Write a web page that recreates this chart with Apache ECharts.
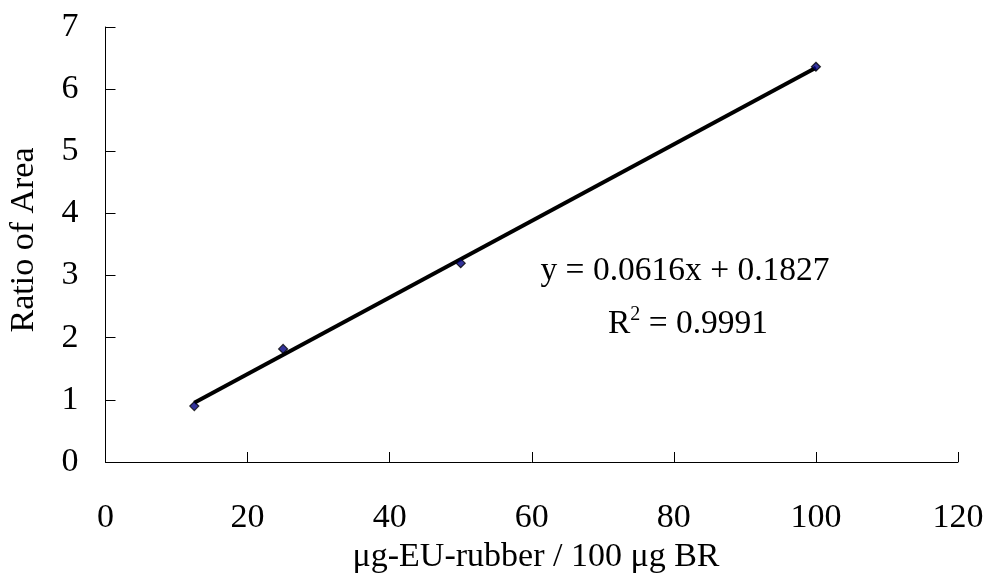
<!DOCTYPE html>
<html>
<head>
<meta charset="utf-8">
<style>
  html, body { margin: 0; padding: 0; background: #fff; }
  #chart { width: 987px; height: 581px; }
</style>
<script src="https://cdn.jsdelivr.net/npm/echarts@6/dist/echarts.min.js"></script>
</head>
<body>
<div id="chart"></div>
<script>
// Calibration points: amount of EU rubber vs. measured peak-area ratio
const amounts = [12.5, 25, 50, 100];
const areaRatios = [0.9, 1.82, 3.2, 6.36];

// Linear fit reported for the calibration
const fitSlope = 0.0616;
const fitIntercept = 0.1827;
const fitR2 = 0.9991;

const xTicks = [0, 20, 40, 60, 80, 100, 120];
const yTicks = [0, 1, 2, 3, 4, 5, 6, 7];

const FONT = '"Liberation Serif", "Times New Roman", serif';

const points = amounts.map((x, i) => [x, areaRatios[i]]);
const xFirst = amounts[0];
const xLast = amounts[amounts.length - 1];
const fitLine = [
  [xFirst, fitSlope * xFirst + fitIntercept],
  [xLast, fitSlope * xLast + fitIntercept]
];

const chart = echarts.init(document.getElementById('chart'), null, { renderer: 'canvas' });

chart.setOption({
  backgroundColor: '#ffffff',
  animation: false,
  grid: { left: 105.5, right: 29, top: 27, bottom: 119, containLabel: false },
  xAxis: {
    type: 'value',
    min: xTicks[0],
    max: xTicks[xTicks.length - 1],
    interval: 20,
    axisLine: { show: true, onZero: false, lineStyle: { color: '#000', width: 1 } },
    axisTick: { show: true, inside: true, length: 10, lineStyle: { color: '#000', width: 1 } },
    axisLabel: { color: '#000', fontFamily: FONT, fontSize: 34, margin: 39 },
    splitLine: { show: false }
  },
  yAxis: {
    type: 'value',
    min: yTicks[0],
    max: yTicks[yTicks.length - 1],
    interval: 1,
    axisLine: { show: true, onZero: false, lineStyle: { color: '#000', width: 1 } },
    axisTick: { show: true, inside: true, length: 10, lineStyle: { color: '#000', width: 1 } },
    axisLabel: { color: '#000', fontFamily: FONT, fontSize: 34, margin: 27 },
    splitLine: { show: false }
  },
  series: [
    {
      name: 'fit',
      type: 'line',
      data: fitLine,
      showSymbol: false,
      symbol: 'none',
      lineStyle: { color: '#000', width: 4 },
      z: 2
    },
    {
      name: 'calibration',
      type: 'scatter',
      data: points,
      symbol: 'diamond',
      symbolSize: 9,
      itemStyle: { color: '#000080', borderColor: '#000', borderWidth: 1.2 },
      z: 3
    }
  ],
  graphic: [
    {
      type: 'text',
      x: 24,
      y: 240,
      rotation: Math.PI / 2,
      style: {
        text: 'Ratio of Area',
        fontFamily: FONT,
        fontSize: 34,
        fill: '#000',
        textAlign: 'center',
        textVerticalAlign: 'middle'
      }
    },
    {
      type: 'text',
      x: 536,
      y: 557,
      style: {
        text: 'μg-EU-rubber / 100 μg BR',
        fontFamily: FONT,
        fontSize: 34,
        fill: '#000',
        textAlign: 'center',
        textVerticalAlign: 'middle'
      }
    },
    {
      type: 'text',
      x: 685,
      y: 271,
      style: {
        text: 'y = ' + fitSlope.toFixed(4) + 'x + ' + fitIntercept.toFixed(4),
        fontFamily: FONT,
        fontSize: 33.5,
        fill: '#000',
        textAlign: 'center',
        textVerticalAlign: 'middle'
      }
    },
    {
      type: 'text',
      x: 688,
      y: 323,
      style: {
        text: '{b|R}{s|2}{b| = ' + fitR2.toFixed(4) + '}',
        fontFamily: FONT,
        fontSize: 33.5,
        fill: '#000',
        textAlign: 'center',
        textVerticalAlign: 'middle',
        rich: {
          b: { fontFamily: FONT, fontSize: 33.5, fill: '#000', verticalAlign: 'bottom', lineHeight: 36 },
          s: { fontFamily: FONT, fontSize: 20, fill: '#000', verticalAlign: 'top', padding: [0, 0, 14, 0], lineHeight: 36 }
        }
      }
    }
  ]
});
</script>
</body>
</html>
